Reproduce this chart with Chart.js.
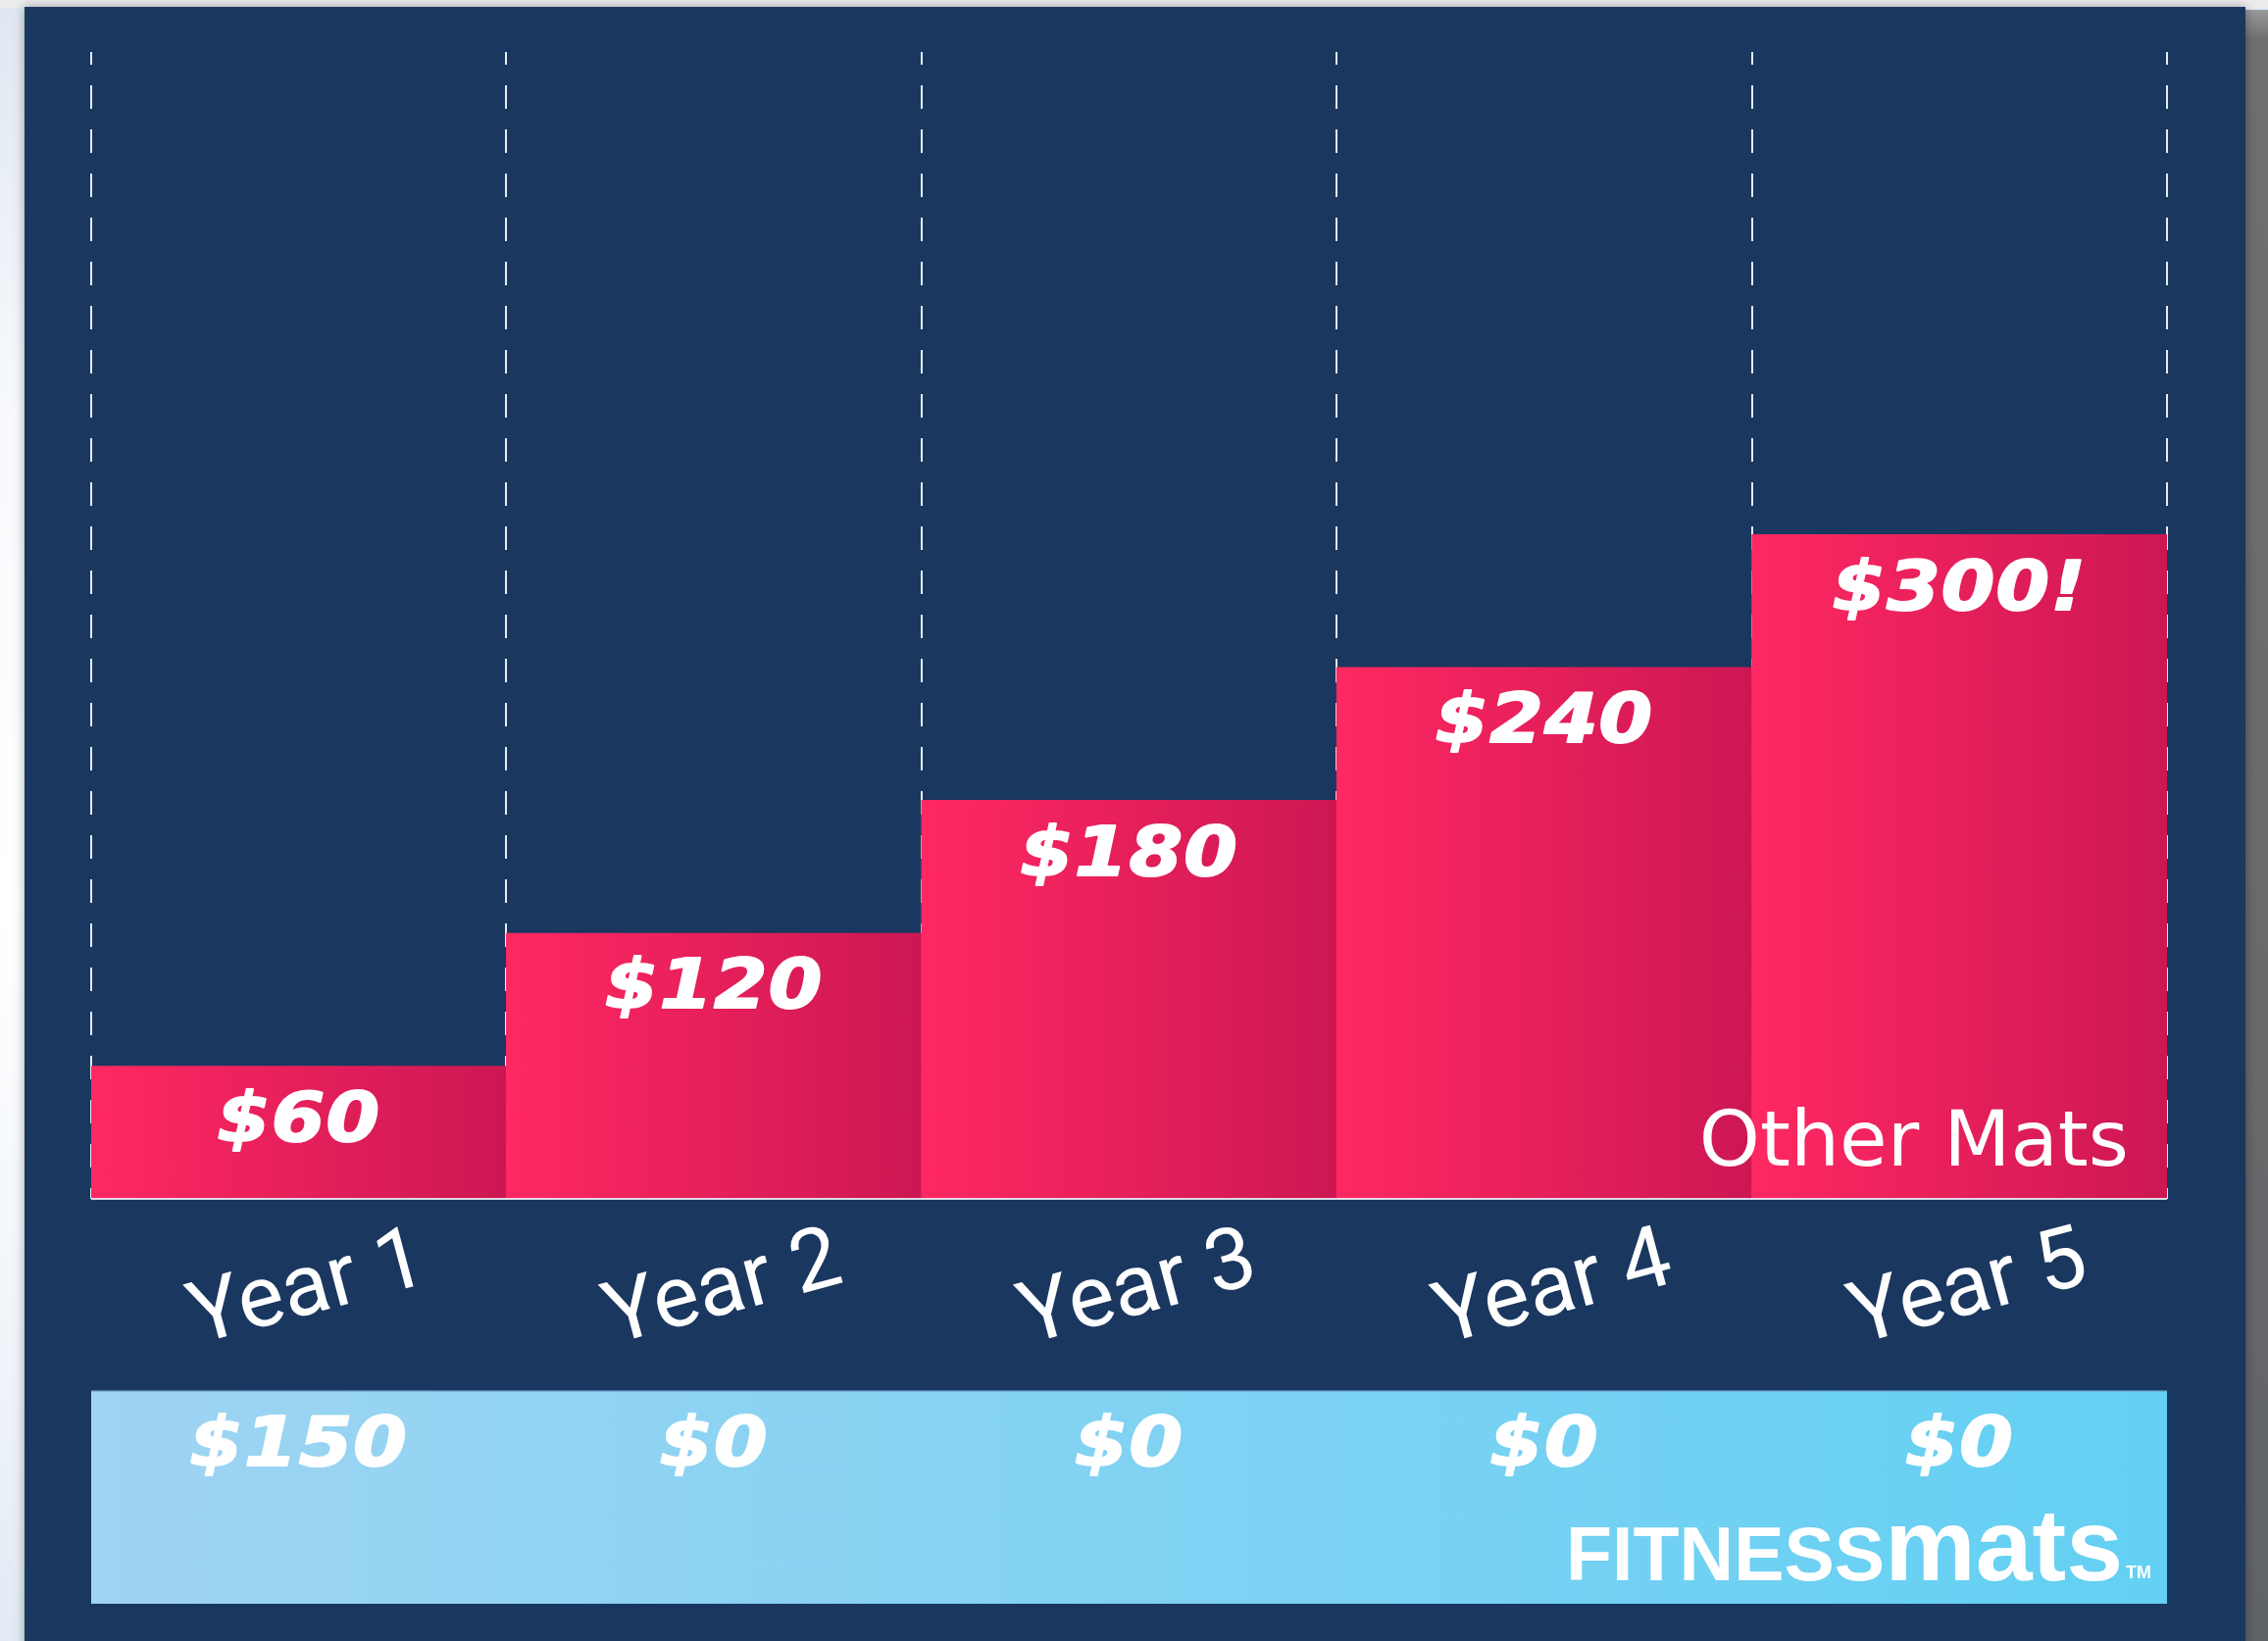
<!DOCTYPE html>
<html>
<head>
<meta charset="utf-8">
<script src="https://cdn.jsdelivr.net/npm/chart.js@4.4.1/dist/chart.umd.min.js"></script>
<style>
  html, body { margin:0; padding:0; width:2313px; height:1674px; overflow:hidden; }
  body { background: linear-gradient(to bottom, #dfe7f1 0%, #f7f9fc 25%, #ffffff 55%, #eef3f9 85%, #e2eaf4 100%); position:relative; }
  #topstrip { position:absolute; left:0; top:0; width:2313px; height:8px; background:#ececec; }
  #rightstrip { position:absolute; left:2288px; top:10px; width:25px; height:1664px;
    background: linear-gradient(to bottom, #9a9a9a 0px, #6f6f6f 30px, #6b6b6b 50%, #606368 100%); }
  #panel { position:absolute; left:25px; top:7px; width:2265px; height:1680px; background:#1a375f;
    box-shadow: 0 0 10px rgba(0,0,0,0.35); }
  #c { position:absolute; left:0; top:0; }
</style>
</head>
<body>
<div id="topstrip"></div>
<div id="rightstrip"></div>
<div id="panel"></div>
<canvas id="c" width="2313" height="1674"></canvas>
<script>
// ---- data ----
const categories = ['Year 1', 'Year 2', 'Year 3', 'Year 4', 'Year 5'];
const otherMatsCost = [60, 120, 180, 240, 300];
const otherMatsLabels = ['$60', '$120', '$180', '$240', '$300!'];
const fitnessMatsCost = [150, 0, 0, 0, 0];
const fitnessMatsLabels = ['$150', '$0', '$0', '$0', '$0'];
const seriesName = 'Other Mats';
const yAxisMax = 518;

function barGradient(c) {
  const chart = c.chart;
  const xs = chart.scales.x;
  if (!chart.chartArea || !xs || c.dataIndex === undefined) return '#e82262';
  const cx = xs.getPixelForValue(c.dataIndex);
  const w = xs.width / categories.length;
  const g = chart.ctx.createLinearGradient(cx - w / 2, 0, cx + w / 2, 0);
  g.addColorStop(0, '#ff2862');
  g.addColorStop(1, '#cc1753');
  return g;
}

function valueText(ctx, text, x, y) {
  ctx.save();
  ctx.translate(x, y);
  ctx.scale(1.12, 1);
  ctx.font = 'italic bold 70px "DejaVu Sans"';
  ctx.textAlign = 'center';
  ctx.textBaseline = 'middle';
  try { ctx.letterSpacing = '1px'; } catch (e) {}
  ctx.fillStyle = '#ffffff';
  ctx.strokeStyle = '#ffffff';
  ctx.lineWidth = 2;
  ctx.lineJoin = 'round';
  ctx.fillText(text, 0, 0);
  ctx.strokeText(text, 0, 0);
  ctx.restore();
}

const overlay = {
  id: 'overlay',
  afterDatasetsDraw(chart) {
    const { ctx, chartArea: ca, scales: { x, y } } = chart;
    const meta = chart.getDatasetMeta(0);
    const y0 = y.getPixelForValue(0);
    ctx.save();
    // baseline
    ctx.strokeStyle = 'rgba(230,236,245,0.9)';
    ctx.lineWidth = 2;
    ctx.beginPath(); ctx.moveTo(ca.left, y0); ctx.lineTo(ca.right, y0); ctx.stroke();

    // bar value labels
    meta.data.forEach((bar, i) => valueText(ctx, otherMatsLabels[i], bar.x, bar.y + 58));

    // series name
    ctx.fillStyle = '#ffffff';
    ctx.font = '79px "DejaVu Sans"';
    ctx.textAlign = 'right';
    ctx.textBaseline = 'alphabetic';
    ctx.fillText(chart.data.datasets[0].label, ca.right - 39, y0 - 34);

    // category labels (rotated)
    ctx.font = '88px Roboto';
    ctx.textAlign = 'center';
    ctx.textBaseline = 'middle';
    categories.forEach((cat, i) => {
      const cx = x.getPixelForValue(i) + 10;
      ctx.save();
      ctx.translate(cx, y0 + 95);
      ctx.rotate(-15 * Math.PI / 180);
      ctx.fillText(cat, 0, 0);
      ctx.restore();
    });

    // FITNESSmats box
    const bTop = y0 + 196, bBot = y0 + 413;
    const g = ctx.createLinearGradient(ca.left, 0, ca.right, 0);
    g.addColorStop(0, '#9fd4f2');
    g.addColorStop(1, '#63d0f3');
    ctx.fillStyle = g;
    ctx.fillRect(ca.left, bTop, ca.right - ca.left, bBot - bTop);
    ctx.strokeStyle = 'rgba(110,160,205,0.8)';
    ctx.lineWidth = 1.5;
    ctx.beginPath(); ctx.moveTo(ca.left, bTop); ctx.lineTo(ca.right, bTop); ctx.stroke();

    fitnessMatsCost.forEach((v, i) => valueText(ctx, fitnessMatsLabels[i], x.getPixelForValue(i), bTop + 58));

    // logo text
    ctx.fillStyle = '#ffffff';
    const logoRight = ca.right - 45;
    const logoBase = y0 + 389;
    ctx.textBaseline = 'alphabetic';
    ctx.textAlign = 'left';
    ctx.font = 'bold 104px "Liberation Sans"';
    const wMats = ctx.measureText('mats').width;
    ctx.font = 'bold 77px "Liberation Sans"';
    const wFit = ctx.measureText('FITNESS').width;
    const startX = logoRight - wMats - wFit;
    ctx.fillText('FITNESS', startX, logoBase);
    ctx.font = 'bold 104px "Liberation Sans"';
    ctx.fillText('mats', startX + wFit, logoBase);
    ctx.font = 'bold 18px "Liberation Sans"';
    ctx.fillText('TM', logoRight + 3, logoBase - 2);
    ctx.restore();
  }
};

new Chart(document.getElementById('c'), {
  type: 'bar',
  data: {
    labels: categories,
    datasets: [{
      label: seriesName,
      data: otherMatsCost,
      backgroundColor: barGradient,
      borderWidth: 0,
      categoryPercentage: 1,
      barPercentage: 1
    }]
  },
  options: {
    responsive: false,
    animation: false,
    devicePixelRatio: 1,
    layout: { padding: { left: 93, right: 103, top: 53, bottom: 451 } },
    plugins: { legend: { display: false }, tooltip: { enabled: false } },
    scales: {
      x: {
        offset: true,
        grid: { offset: true, color: 'rgba(240,244,250,0.95)', lineWidth: 2, drawTicks: false },
        border: { display: false, dash: [24, 21], dashOffset: 11 },
        ticks: { display: false }
      },
      y: { display: false, min: 0, max: yAxisMax }
    }
  },
  plugins: [overlay]
});
</script>
</body>
</html>
